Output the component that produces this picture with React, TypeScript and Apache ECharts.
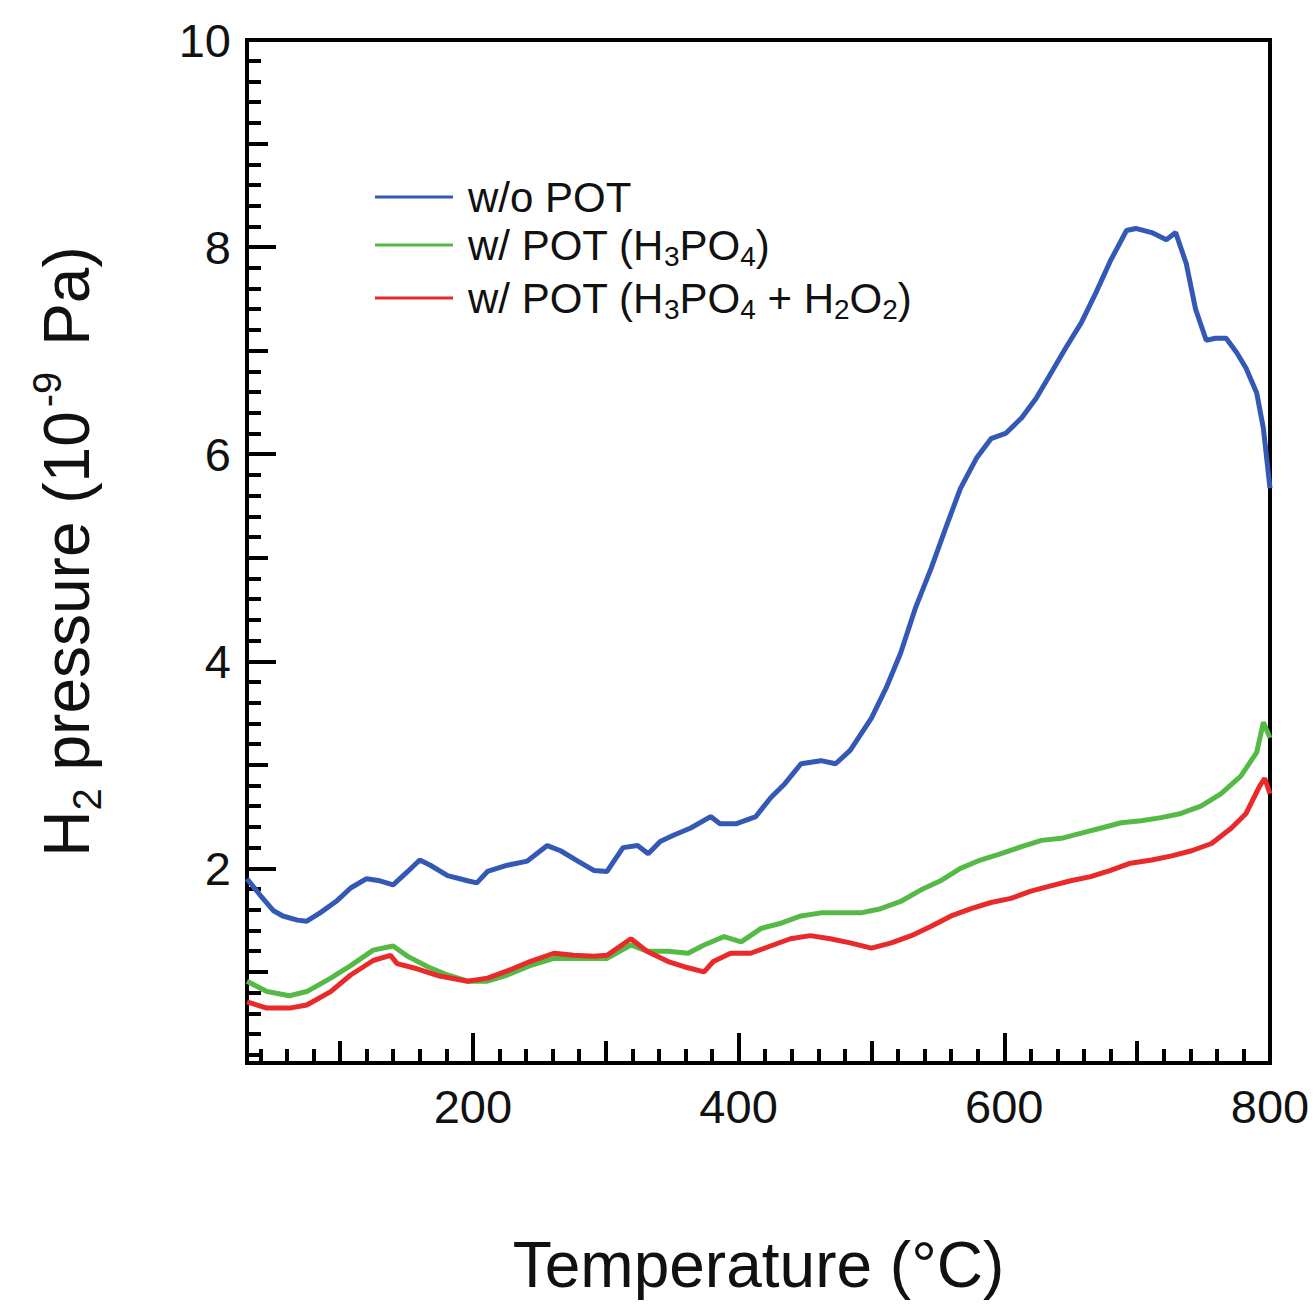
import React, { useEffect, useRef } from 'react';
import * as echarts from 'echarts';

// Temperature (°C) and H2 pressure (1e-9 Pa)
const blueT = [30, 40, 50, 57, 68, 75, 85, 98, 108, 120, 130, 140, 151, 160, 168, 181, 196, 203, 211, 226, 241, 256, 266, 279, 291, 301, 313, 324, 332, 341, 351, 364, 379, 386, 398, 413, 424, 435, 447, 462, 473, 484, 500, 511, 522, 533, 545, 556, 567, 579, 590, 601, 613, 624, 635, 646, 658, 669, 680, 692, 699, 711, 722, 729, 737, 744, 752, 759, 767, 775, 782, 790, 795, 800];
const blueP = [1.9, 1.74, 1.59, 1.54, 1.5, 1.49, 1.57, 1.69, 1.81, 1.9, 1.88, 1.84, 1.97, 2.08, 2.03, 1.93, 1.88, 1.86, 1.97, 2.03, 2.07, 2.22, 2.17, 2.07, 1.98, 1.97, 2.2, 2.22, 2.14, 2.26, 2.32, 2.39, 2.5, 2.43, 2.43, 2.5, 2.68, 2.82, 3.01, 3.04, 3.01, 3.14, 3.45, 3.74, 4.08, 4.51, 4.9, 5.29, 5.67, 5.96, 6.15, 6.2, 6.35, 6.54, 6.78, 7.02, 7.27, 7.56, 7.87, 8.16, 8.18, 8.14, 8.07, 8.14, 7.84, 7.4, 7.1, 7.12, 7.12, 6.98, 6.83, 6.59, 6.25, 5.67];

const greenT = [30, 45, 62, 75, 93, 108, 125, 140, 151, 166, 181, 196, 211, 226, 243, 261, 276, 291, 301, 319, 331, 347, 362, 374, 389, 402, 417, 432, 447, 462, 477, 492, 507, 522, 537, 552, 567, 582, 597, 613, 628, 643, 658, 673, 688, 703, 718, 733, 748, 763, 778, 790, 795, 800];
const greenP = [0.91, 0.81, 0.77, 0.81, 0.94, 1.06, 1.21, 1.25, 1.15, 1.05, 0.97, 0.91, 0.91, 0.97, 1.06, 1.13, 1.13, 1.13, 1.13, 1.26, 1.2, 1.2, 1.18, 1.26, 1.34, 1.29, 1.42, 1.47, 1.54, 1.57, 1.57, 1.57, 1.61, 1.68, 1.79, 1.88, 2.0, 2.08, 2.14, 2.21, 2.27, 2.29, 2.34, 2.39, 2.44, 2.46, 2.49, 2.53, 2.6, 2.72, 2.89, 3.12, 3.41, 3.26];

const redT = [30, 45, 62, 75, 93, 108, 125, 138, 143, 158, 175, 196, 211, 226, 243, 261, 276, 291, 301, 319, 331, 347, 359, 374, 381, 394, 409, 424, 439, 454, 469, 484, 500, 515, 530, 545, 560, 575, 590, 605, 620, 635, 650, 665, 680, 695, 711, 726, 741, 756, 771, 782, 792, 796, 800];
const redP = [0.71, 0.65, 0.65, 0.68, 0.81, 0.97, 1.11, 1.16, 1.08, 1.03, 0.96, 0.91, 0.94, 1.01, 1.1, 1.18, 1.16, 1.15, 1.16, 1.32, 1.2, 1.1, 1.05, 1.0, 1.1, 1.18, 1.18, 1.25, 1.32, 1.35, 1.32, 1.28, 1.23, 1.28, 1.35, 1.44, 1.54, 1.61, 1.67, 1.71, 1.78, 1.83, 1.88, 1.92, 1.98, 2.05, 2.08, 2.12, 2.17, 2.24, 2.39, 2.53, 2.79, 2.87, 2.72];

const seriesNames = ['w/o POT', 'w/ POT (H3PO4)', 'w/ POT (H3PO4 + H2O2)'];
const seriesColors = ['#3358b5', '#55b946', '#e82a2a'];

const xLabelValues = [200, 400, 600, 800];
const xMidTicks = [100, 300, 500, 700];
const yLabelValues = [2, 4, 6, 8, 10];
const yMidTicks = [1, 3, 5, 7, 9];

const FONT = '"Liberation Sans", Arial, Helvetica, sans-serif';

function pairs(t: number[], p: number[]) {
  return t.map((v, i) => [v, p[i]]);
}

export default function App() {
  const ref = useRef<HTMLDivElement>(null);
  useEffect(() => {
    const chart = echarts.init(ref.current as HTMLDivElement, null, { renderer: 'svg' });

    const xMinor: number[] = [];
    for (let v = 40; v < 800; v += 20) if (v % 100 !== 0) xMinor.push(v);
    const yMinor: number[] = [];
    for (let k = 1; k < 50; k++) if (k % 5 !== 0) yMinor.push(+(k * 0.2).toFixed(1));

    const tickStyle = { color: '#000', width: 4 };
    const xBase = (vals: number[], len: number) => ({
      type: 'value', min: 30, max: 800, gridIndex: 0, position: 'bottom', offset: 0,
      splitLine: { show: false }, axisLine: { show: false },
      axisLabel: { show: false, customValues: vals },
      axisTick: { show: true, inside: true, length: len, lineStyle: tickStyle, customValues: vals },
    });
    const yBase = (vals: number[], len: number) => ({
      type: 'value', min: 0.12, max: 10, gridIndex: 0, position: 'left', offset: 0,
      splitLine: { show: false }, axisLine: { show: false },
      axisLabel: { show: false, customValues: vals },
      axisTick: { show: true, inside: true, length: len, lineStyle: tickStyle, customValues: vals },
    });

    const nRich = (pad: boolean) => ({ fontSize: 42, lineHeight: 50, fontFamily: FONT, color: '#111', padding: pad ? [0, 0, 0, 10] : 0 });
    const legendRich = {
      f: nRich(true),
      n: nRich(false),
      s: { fontSize: 28, fontFamily: FONT, color: '#111', verticalAlign: 'bottom' },
    };
    const legendLabels: Record<string, string> = {
      'w/o POT': '{f|w/o POT}',
      'w/ POT (H3PO4)': '{f|w/ POT (H}{s|3}{n|PO}{s|4}{n|)}',
      'w/ POT (H3PO4 + H2O2)': '{f|w/ POT (H}{s|3}{n|PO}{s|4}{n| + H}{s|2}{n|O}{s|2}{n|)}',
    };
    const legendCenters = [196, 244, 297];

    chart.setOption({
      animation: false,
      backgroundColor: '#fff',
      grid: { left: 247, top: 40, width: 1023, height: 1023, show: true, borderColor: '#000', borderWidth: 4, containLabel: false },
      legend: seriesNames.map((name, i) => ({
        data: [name],
        left: 370,
        top: legendCenters[i] - 25,
        icon: 'rect',
        itemWidth: 78,
        itemHeight: 3,
        formatter: (n: string) => legendLabels[n],
        textStyle: { rich: legendRich },
        selectedMode: false,
      })),
      xAxis: [
        {
          type: 'value', min: 30, max: 800, gridIndex: 0, position: 'bottom', offset: 0,
          splitLine: { show: false },
          axisLine: { show: true, lineStyle: { color: '#000', width: 4 } },
          axisTick: { show: true, inside: true, length: 30, lineStyle: tickStyle, customValues: xLabelValues },
          axisLabel: { show: true, customValues: xLabelValues, fontSize: 47, fontFamily: FONT, color: '#111', margin: 20 },
          name: 'Temperature (°C)',
          nameLocation: 'middle',
          nameGap: 170,
          nameTextStyle: { fontSize: 64, fontFamily: FONT, color: '#111' },
        },
        xBase(xMidTicks, 22),
        xBase(xMinor, 14),
      ],
      yAxis: [
        {
          type: 'value', min: 0.12, max: 10, gridIndex: 0, position: 'left', offset: 0,
          splitLine: { show: false },
          axisLine: { show: true, lineStyle: { color: '#000', width: 4 } },
          axisTick: { show: true, inside: true, length: 29, lineStyle: tickStyle, customValues: yLabelValues },
          axisLabel: { show: true, customValues: yLabelValues, fontSize: 47, fontFamily: FONT, color: '#111', margin: 16 },
          name: '{a|H}{b|2}{a| pressure (10}{c|-9}{a| Pa)}',
          nameLocation: 'middle',
          nameRotate: 90,
          nameGap: 140,
          nameTextStyle: {
            rich: {
              a: { fontSize: 64, lineHeight: 80, fontFamily: FONT, color: '#111' },
              b: { fontSize: 40, fontFamily: FONT, color: '#111', verticalAlign: 'bottom' },
              c: { fontSize: 40, fontFamily: FONT, color: '#111', verticalAlign: 'top', padding: [0, 8, 0, 4] },
            },
          },
        },
        yBase(yMidTicks, 21),
        yBase(yMinor, 14),
      ],
      series: [
        { name: seriesNames[0], data: pairs(blueT, blueP) },
        { name: seriesNames[1], data: pairs(greenT, greenP) },
        { name: seriesNames[2], data: pairs(redT, redP) },
      ].map((s, i) => ({
        ...s,
        type: 'line',
        xAxisIndex: 0,
        yAxisIndex: 0,
        symbol: 'none',
        showSymbol: false,
        color: seriesColors[i],
        lineStyle: { width: 5, color: seriesColors[i] },
      })),
    });
    return () => chart.dispose();
  }, []);
  return <div ref={ref} style={{ position: 'absolute', left: 0, top: 0, width: 1315, height: 1304 }} />;
}
